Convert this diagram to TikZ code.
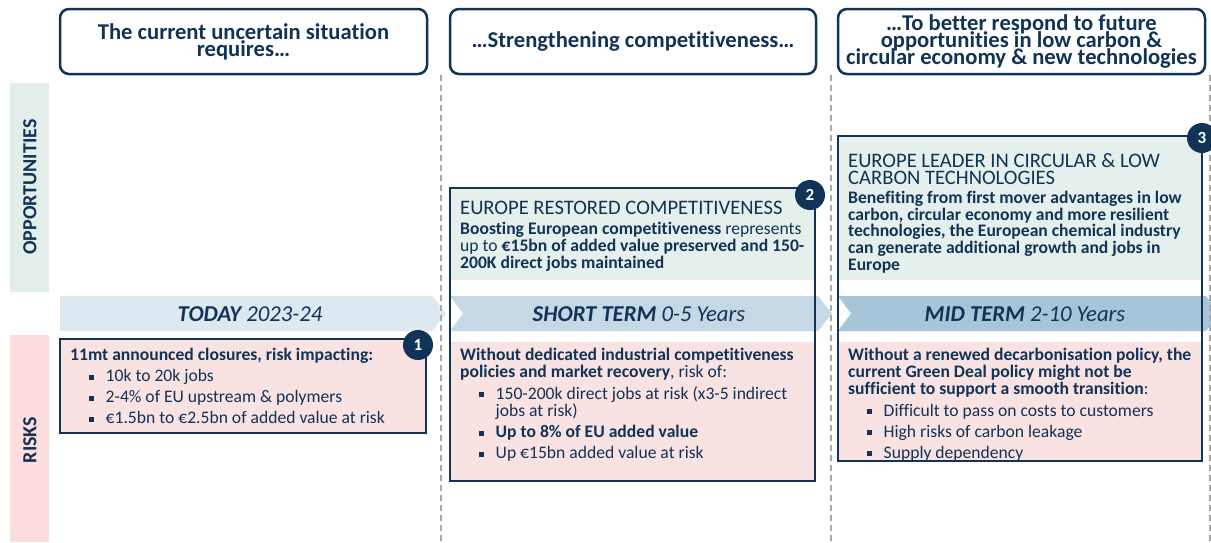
\documentclass[tikz,border=0pt]{standalone}
\usepackage{fontspec}
\setmainfont{Carlito}[Ligatures=NoCommon]
\usetikzlibrary{positioning}

\definecolor{navy}{RGB}{17,51,86}
\definecolor{oppband}{RGB}{227,238,234}
\definecolor{oppfill}{RGB}{229,239,235}
\definecolor{riskband}{RGB}{253,221,221}
\definecolor{riskfill}{RGB}{249,226,226}
\definecolor{todayblue}{RGB}{221,233,241}
\definecolor{shortblue}{RGB}{196,216,229}
\definecolor{midblue}{RGB}{166,197,217}
\definecolor{sepgray}{RGB}{168,168,168}

\newcommand{\sq}{\hspace*{19pt}\makebox[16.5pt][l]{\rule[1.9pt]{4.8pt}{4.8pt}}}
\newcommand{\cont}{\hspace*{35.5pt}}
\newcommand{\tightlines}{\lineskiplimit=-50pt\relax}

\tikzset{
    headbox/.style={draw=navy, line width=2.5pt, rounded corners=9pt, fill=white,
        text=navy, font=\bfseries\fontsize{22.6}{16.8}\selectfont\tightlines,
        align=center},
    bodytext/.style={text=navy, font=\fontsize{17.6}{17}\selectfont, align=left,
        inner sep=0pt, anchor=north west},
    opptitle/.style={text=navy, font=\fontsize{20.6}{17}\selectfont\tightlines,
        align=left, inner sep=0pt, anchor=north west},
    phase/.style={text=navy, font=\itshape\fontsize{22.7}{22.7}\selectfont, inner sep=0pt},
    sidelbl/.style={text=navy, font=\bfseries\fontsize{20}{20}\selectfont,
        rotate=90, inner sep=0pt},
    frame/.style={draw=navy, line width=2.5pt},
    sepline/.style={draw=sepgray, line width=1.4pt, dash pattern=on 6pt off 4pt},
    badge/.style={circle, fill=navy, text=white, font=\bfseries\fontsize{17}{17}\selectfont,
        minimum size=30pt, inner sep=0pt}
}

\begin{document}
\begin{tikzpicture}[x=1pt,y=-1pt]
    \useasboundingbox (0,0) rectangle (1211,542);

    \fill[oppband] (10,83) rectangle (49,292);
    \fill[riskband] (10,335) rectangle (49,542);
    \node[sidelbl] (opplbl) at (30,187) {OPPORTUNITIES};
    \node[sidelbl] (risklbl) at (30,440) {RISKS};

    \node[headbox, minimum width=367pt, minimum height=65pt] (headA) at (243.5,41.5)
        {The current uncertain situation\\requires…};
    \node[headbox, minimum width=366pt, minimum height=65pt] (headB) at (633,41.5)
        {…Strengthening competitiveness…};
    \node[headbox, minimum width=367pt, minimum height=65pt] (headC) at (1021.5,41.5)
        {…To better respond to future\\opportunities in low carbon \&\\circular economy \& new technologies};

    \fill[riskfill] (60,339) rectangle (426,433);
    \fill[oppfill] (450,188) rectangle (815,280);
    \fill[riskfill] (450,342) rectangle (815,481);
    \fill[oppfill] (838,136) rectangle (1202,280);
    \fill[riskfill] (838,342) rectangle (1202,461);

    \fill[todayblue] (60,296) -- (432,296) -- (446,313.5) -- (432,331) -- (60,331) -- cycle;
    \fill[shortblue] (450,296) -- (818,296) -- (832,313.5) -- (818,331) -- (450,331) -- (463,313.5) -- cycle;
    \fill[midblue] (838,296) -- (1206,296) -- (1220,313.5) -- (1206,331) -- (838,331) -- (851,313.5) -- cycle;
    \node[phase] (today) at (250,314) {\textbf{TODAY} 2023-24};
    \node[phase] (shortterm) at (639,314) {\textbf{SHORT TERM} 0-5 Years};
    \node[phase] (midterm) at (1025,314) {\textbf{MID TERM} 2-10 Years};

    \draw[sepline] (441,75) -- (441,542);
    \draw[sepline] (831,75) -- (831,542);
    \draw[sepline] (1210,75) -- (1210,542);

    \node[opptitle] (restored) at (460,201) {EUROPE RESTORED COMPETITIVENESS};
    \node[bodytext] (restoredtxt) at (460,222)
        {\textbf{Boosting European competitiveness} represents\\
         up to \textbf{€15bn of added value preserved and 150-}\\
         \textbf{200K direct jobs maintained}};
    \node[opptitle] (leader) at (848,153) {EUROPE LEADER IN CIRCULAR \& LOW\\CARBON TECHNOLOGIES};
    \node[bodytext, font=\bfseries\fontsize{17.6}{16.7}\selectfont] (leadertxt) at (848,191)
        {Benefiting from first mover advantages in low\\
         carbon, circular economy and more resilient\\
         technologies, the European chemical industry\\
         can generate additional growth and jobs in\\
         Europe};

    \node[bodytext] (risktoday) at (70,348)
        {\textbf{11mt announced closures, risk impacting:}\\[4pt]
         \sq 10k to 20k jobs\\[4pt]
         \sq 2-4\% of EU upstream \& polymers\\[4pt]
         \sq €1.5bn to €2.5bn of added value at risk};
    \node[bodytext] (riskshort) at (460,348)
        {\textbf{Without dedicated industrial competitiveness}\\
         \textbf{policies and market recovery}, risk of:\\[4.5pt]
         \sq 150-200k direct jobs at risk (x3-5 indirect\\
         \cont jobs at risk)\\[4.5pt]
         \sq \textbf{Up to 8\% of EU added value}\\[4pt]
         \sq Up €15bn added value at risk};
    \node[bodytext] (riskmid) at (848,348)
        {\textbf{Without a renewed decarbonisation policy, the}\\
         \textbf{current Green Deal policy might not be}\\
         \textbf{sufficient to support a smooth transition}:\\[4.5pt]
         \sq Difficult to pass on costs to customers\\[4pt]
         \sq High risks of carbon leakage\\[4pt]
         \sq Supply dependency};

    \draw[frame] (60,339) rectangle (426,433);
    \draw[frame] (450,188) rectangle (815,481);
    \draw[frame] (838,136) rectangle (1202,461);

    \node[badge] (one) at (418,345) {1};
    \node[badge] (two) at (810,195) {2};
    \node[badge] (three) at (1202,138) {3};
\end{tikzpicture}
\end{document}
